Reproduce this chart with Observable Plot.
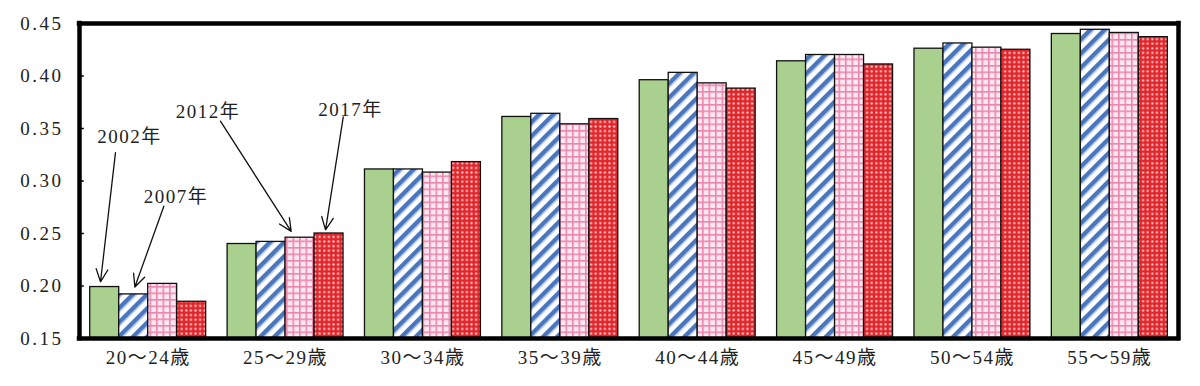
<!DOCTYPE html>
<html>
<head>
<meta charset="utf-8">
<script src="https://cdn.jsdelivr.net/npm/d3@7"></script>
<script src="https://cdn.jsdelivr.net/npm/@observablehq/plot@0.6"></script>
<style>
  html, body { margin: 0; padding: 0; background: #fff; }
  #chart svg { display: block; }
</style>
</head>
<body>
<div id="chart"></div>
<script>
const ageGroups = ["20～24歳", "25～29歳", "30～34歳", "35～39歳", "40～44歳", "45～49歳", "50～54歳", "55～59歳"];
const years = ["2002年", "2007年", "2012年", "2017年"];
const v2002 = [0.199, 0.240, 0.311, 0.361, 0.396, 0.414, 0.426, 0.440];
const v2007 = [0.192, 0.242, 0.311, 0.364, 0.403, 0.420, 0.431, 0.444];
const v2012 = [0.202, 0.246, 0.308, 0.354, 0.393, 0.420, 0.427, 0.441];
const v2017 = [0.185, 0.250, 0.318, 0.359, 0.388, 0.411, 0.425, 0.437];
const yTicks = [0.15, 0.20, 0.25, 0.30, 0.35, 0.40, 0.45];

// annotation labels with arrows (data coordinates: x = group units, y = value)
const annotations = [
  {label: "2002年", tx: 0.364, ty: 0.342, x1: 0.262, y1: 0.327, x2: 0.153, y2: 0.204},
  {label: "2007年", tx: 0.703, ty: 0.285, x1: 0.614, y1: 0.276, x2: 0.403, y2: 0.199},
  {label: "2012年", tx: 0.935, ty: 0.366, x1: 1.026, y1: 0.357, x2: 1.541, y2: 0.252},
  {label: "2017年", tx: 1.973, ty: 0.368, x1: 1.920, y1: 0.361, x2: 1.791, y2: 0.2535}
];

const series = [v2002, v2007, v2012, v2017];
const fills = ["#a9d08e", "url(#p2007)", "url(#p2012)", "url(#p2017)"];
const barW = 0.211;
const groupOffset = -2 * barW;

const rows = [];
ageGroups.forEach((g, i) => {
  series.forEach((s, k) => {
    rows.push({group: g, gi: i, year: years[k], k, value: s[i],
      x1: i + 0.5 + groupOffset + k * barW, x2: i + 0.5 + groupOffset + (k + 1) * barW});
  });
});

const serif = "'Liberation Serif', 'DejaVu Serif', 'Noto Sans CJK JP', serif";

const barMarks = years.map((y, k) =>
  Plot.rectY(rows.filter(d => d.k === k), {
    x1: "x1", x2: "x2", y1: 0.15, y2: "value",
    fill: fills[k], stroke: "#111", strokeWidth: 1.3
  })
);

const plot = Plot.plot({
  width: 1200,
  height: 386,
  marginLeft: 79,
  marginRight: 22,
  marginTop: 23,
  marginBottom: 48,
  style: {fontFamily: serif, background: "#fff"},
  x: {domain: [0, 8], axis: null},
  y: {domain: [0.15, 0.45], axis: null},
  marks: [
    ...barMarks,
    Plot.ruleY(yTicks.slice(1, -1), {x1: 0, x2: 0.035, stroke: "#000", strokeWidth: 1.5}),
    Plot.axisY({ticks: yTicks, tickSize: 0, tickPadding: 16, tickFormat: d => d.toFixed(2),
      fontSize: 19, fill: "#222", className: "ytick"}),
    Plot.text(ageGroups, {x: (d, i) => i + 0.5, y: 0.15, text: d => d, dy: 19, fontSize: 19,
      fill: "#222", lineAnchor: "middle", className: "xlab"}),
    Plot.ruleX([0, 8], {stroke: "#000", strokeWidth: 4.5, strokeLinecap: "square"}),
    Plot.ruleY([0.15, 0.45], {stroke: "#000", strokeWidth: 4.5, strokeLinecap: "square"}),
    Plot.arrow(annotations, {x1: "x1", y1: "y1", x2: "x2", y2: "y2", stroke: "#111",
      strokeWidth: 1.3, headLength: 16, headAngle: 50}),
    Plot.text(annotations, {x: "tx", y: "ty", text: "label", fontSize: 19, fill: "#222", className: "ann"})
  ]
});

document.getElementById("chart").appendChild(plot);

// patterns
const svg = d3.select(plot);
const defs = svg.insert("defs", ":first-child");
const p7 = defs.append("pattern").attr("id", "p2007").attr("patternUnits", "userSpaceOnUse")
  .attr("width", 10).attr("height", 10).attr("patternTransform", "rotate(45)");
p7.append("rect").attr("width", 10).attr("height", 10).attr("fill", "#ffffff");
p7.append("rect").attr("x", 0).attr("width", 4.5).attr("height", 10).attr("fill", "#4a76bd");
p7.append("rect").attr("x", 4.5).attr("width", 1).attr("height", 10).attr("fill", "#a9c0e4");
const p12 = defs.append("pattern").attr("id", "p2012").attr("patternUnits", "userSpaceOnUse")
  .attr("width", 6.5).attr("height", 6.5);
p12.append("rect").attr("width", 6.5).attr("height", 6.5).attr("fill", "#fde8f1");
p12.append("rect").attr("width", 6.5).attr("height", 1.6).attr("fill", "#ec86ad");
p12.append("rect").attr("width", 1.6).attr("height", 6.5).attr("fill", "#ec86ad");
const p17 = defs.append("pattern").attr("id", "p2017").attr("patternUnits", "userSpaceOnUse")
  .attr("width", 4.6).attr("height", 4.6);
p17.append("rect").attr("width", 4.6).attr("height", 4.6).attr("fill", "#e2262b");
p17.append("circle").attr("cx", 2.3).attr("cy", 2.3).attr("r", 1.15).attr("fill", "#fcd2d0");

svg.selectAll(".ytick text").style("letter-spacing", "2.5px");
svg.selectAll(".xlab text").style("letter-spacing", "1.5px");
svg.selectAll(".ann text").style("letter-spacing", "1.5px");
</script>
</body>
</html>
